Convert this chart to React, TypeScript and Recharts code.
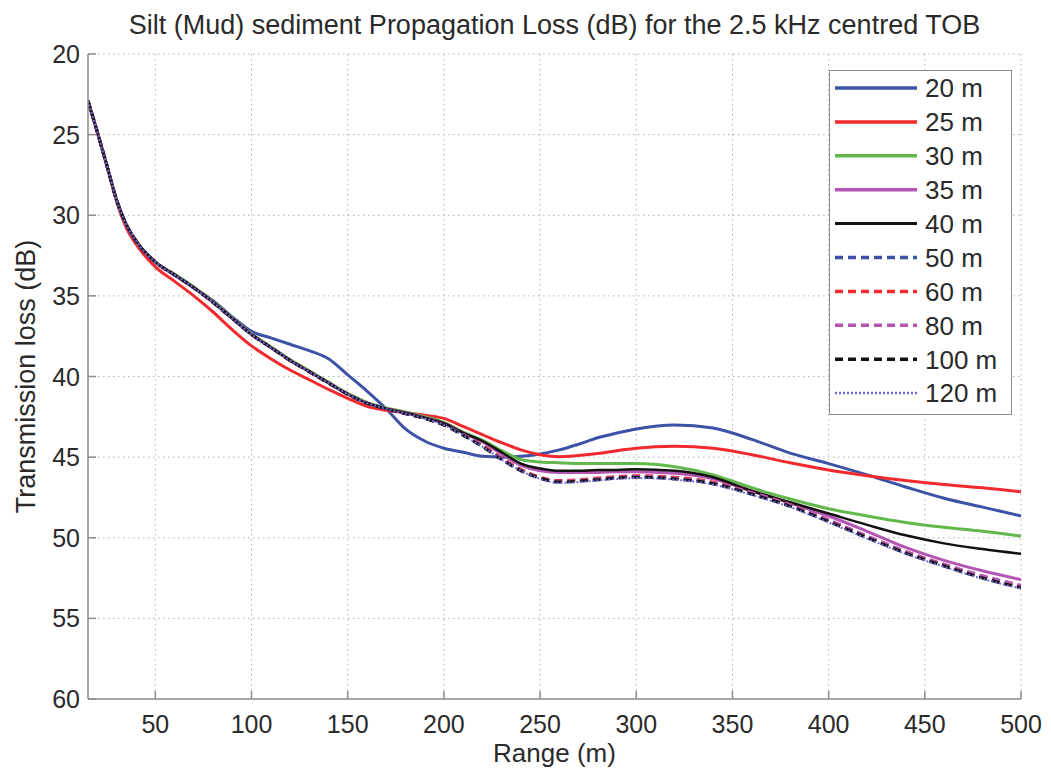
import React from 'react';
import { LineChart, Line, XAxis, YAxis, CartesianGrid, Legend, Label } from 'recharts';

const ranges = [15, 20, 25, 30, 35, 40, 50, 60, 70, 80, 90, 100, 110, 120, 130, 140, 150, 160, 170, 180, 190, 200, 210, 220, 230, 240, 250, 260, 270, 280, 290, 300, 320, 340, 360, 380, 400, 420, 440, 460, 480, 500];

const tl20 = [22.9, 24.9, 27.0, 29.1, 30.6, 31.6, 32.9, 33.7, 34.5, 35.3, 36.3, 37.2, 37.6, 38.0, 38.4, 38.9, 39.9, 40.9, 42.0, 43.25, 44.0, 44.45, 44.7, 44.95, 45.0, 44.95, 44.8, 44.55, 44.2, 43.8, 43.5, 43.25, 43.0, 43.2, 43.9, 44.75, 45.4, 46.1, 46.85, 47.55, 48.1, 48.65];
const tl25 = [22.9, 24.9, 27.0, 29.2, 30.8, 31.8, 33.2, 34.1, 35.0, 36.0, 37.1, 38.1, 38.9, 39.6, 40.2, 40.8, 41.35, 41.85, 42.1, 42.25, 42.4, 42.6, 43.1, 43.6, 44.1, 44.55, 44.85, 44.97, 44.9, 44.78, 44.6, 44.45, 44.33, 44.45, 44.85, 45.35, 45.8, 46.15, 46.45, 46.7, 46.9, 47.15];
const tl30 = [22.9, 24.9, 27.0, 29.1, 30.6, 31.6, 32.9, 33.65, 34.45, 35.35, 36.35, 37.35, 38.15, 38.95, 39.65, 40.35, 41.05, 41.6, 41.95, 42.2, 42.5, 42.85, 43.45, 43.95, 44.6, 45.15, 45.3, 45.35, 45.4, 45.4, 45.4, 45.4, 45.6, 46.1, 46.9, 47.6, 48.2, 48.65, 49.05, 49.35, 49.6, 49.9];
const tl35 = [22.9, 24.9, 27.0, 29.1, 30.6, 31.6, 32.9, 33.7, 34.5, 35.4, 36.4, 37.4, 38.2, 39.0, 39.7, 40.4, 41.1, 41.65, 42.0, 42.25, 42.55, 42.9, 43.5, 44.05, 44.8, 45.5, 45.85, 45.95, 45.95, 45.95, 45.9, 45.9, 46.0, 46.35, 47.1, 47.85, 48.65, 49.6, 50.6, 51.4, 52.05, 52.6];
const tl40 = [22.9, 24.9, 27.0, 29.1, 30.6, 31.6, 32.9, 33.7, 34.5, 35.4, 36.4, 37.4, 38.2, 39.0, 39.7, 40.4, 41.1, 41.65, 42.0, 42.25, 42.55, 42.9, 43.5, 44.0, 44.7, 45.4, 45.7, 45.85, 45.85, 45.8, 45.8, 45.75, 45.85, 46.25, 47.1, 47.8, 48.5, 49.2, 49.85, 50.35, 50.7, 51.0];
const tl50 = [22.9, 24.9, 27.0, 29.1, 30.6, 31.6, 32.9, 33.7, 34.5, 35.4, 36.4, 37.4, 38.2, 39.0, 39.7, 40.4, 41.1, 41.65, 42.0, 42.3, 42.6, 43.0, 43.6, 44.3, 45.1, 45.8, 46.3, 46.5, 46.45, 46.35, 46.25, 46.2, 46.3, 46.6, 47.25, 48.0, 48.95, 49.95, 50.9, 51.7, 52.45, 53.05];
const tl60 = [22.9, 24.9, 27.0, 29.1, 30.6, 31.6, 32.9, 33.7, 34.5, 35.4, 36.4, 37.4, 38.2, 39.0, 39.7, 40.4, 41.1, 41.65, 42.0, 42.3, 42.6, 43.0, 43.6, 44.25, 45.05, 45.75, 46.25, 46.45, 46.4, 46.3, 46.2, 46.15, 46.25, 46.55, 47.2, 47.95, 48.9, 49.9, 50.85, 51.65, 52.4, 53.0];
const tl80 = [22.9, 24.9, 27.0, 29.1, 30.6, 31.6, 32.9, 33.7, 34.5, 35.4, 36.4, 37.4, 38.2, 39.0, 39.7, 40.4, 41.1, 41.65, 42.0, 42.3, 42.6, 43.0, 43.6, 44.3, 45.1, 45.8, 46.3, 46.5, 46.45, 46.35, 46.25, 46.2, 46.3, 46.6, 47.2, 47.95, 48.9, 49.9, 50.85, 51.65, 52.35, 52.95];
const tl100 = [22.9, 24.9, 27.0, 29.1, 30.6, 31.6, 32.9, 33.7, 34.5, 35.4, 36.4, 37.4, 38.2, 39.0, 39.7, 40.4, 41.1, 41.65, 42.0, 42.3, 42.6, 43.0, 43.65, 44.35, 45.15, 45.85, 46.3, 46.55, 46.5, 46.4, 46.3, 46.25, 46.35, 46.65, 47.3, 48.05, 49.0, 50.0, 50.95, 51.75, 52.5, 53.1];
const tl120 = [22.9, 24.9, 27.0, 29.1, 30.6, 31.6, 32.9, 33.7, 34.5, 35.4, 36.4, 37.4, 38.2, 39.0, 39.7, 40.4, 41.1, 41.65, 42.0, 42.3, 42.6, 43.0, 43.65, 44.35, 45.15, 45.85, 46.35, 46.6, 46.55, 46.45, 46.35, 46.3, 46.4, 46.7, 47.35, 48.1, 49.05, 50.05, 51.0, 51.8, 52.55, 53.15];

const xTicks = [50, 100, 150, 200, 250, 300, 350, 400, 450, 500];
const yTicks = [20, 25, 30, 35, 40, 45, 50, 55, 60];

const TITLE = 'Silt (Mud) sediment Propagation Loss (dB) for the 2.5 kHz centred TOB';
const X_LABEL = 'Range (m)';
const Y_LABEL = 'Transmission loss (dB)';

const series = [
  { key: 'd20', name: '20 m', values: tl20, color: '#3c52a6', dash: undefined as string | undefined, width: 3 },
  { key: 'd25', name: '25 m', values: tl25, color: '#f02a2e', dash: undefined as string | undefined, width: 3 },
  { key: 'd30', name: '30 m', values: tl30, color: '#62b84a', dash: undefined as string | undefined, width: 3 },
  { key: 'd35', name: '35 m', values: tl35, color: '#b455b4', dash: undefined as string | undefined, width: 3 },
  { key: 'd40', name: '40 m', values: tl40, color: '#111111', dash: undefined as string | undefined, width: 2.5 },
  { key: 'd50', name: '50 m', values: tl50, color: '#3c52a6', dash: '8 5', width: 3 },
  { key: 'd60', name: '60 m', values: tl60, color: '#f02a2e', dash: '8 5', width: 3 },
  { key: 'd80', name: '80 m', values: tl80, color: '#b455b4', dash: '8 5', width: 3 },
  { key: 'd100', name: '100 m', values: tl100, color: '#111111', dash: '8 5', width: 3 },
  { key: 'd120', name: '120 m', values: tl120, color: '#6b6bdc', dash: '2 2', width: 2 },
];

const data = ranges.map((r, i) => {
  const row: Record<string, number> = { range: r };
  series.forEach((s) => {
    row[s.key] = s.values[i];
  });
  return row;
});

const FONT = '"Liberation Sans", Arial, Helvetica, sans-serif';
const TEXT = '#2a2a2a';
const FRAME = '#8c8c8c';

const XTick = (props: any) => {
  const { x, y, payload } = props;
  return (
    <text x={x} y={y} dy="0.72em" textAnchor="middle" fontFamily={FONT} fontSize={25} fill={TEXT}>
      {payload.value}
    </text>
  );
};

const YTick = (props: any) => {
  const { x, y, payload } = props;
  return (
    <text x={x} y={y} dy="0.36em" textAnchor="end" fontFamily={FONT} fontSize={25} fill={TEXT}>
      {payload.value}
    </text>
  );
};

const LegendBox = () => {
  const w = 183;
  const h = 345;
  return (
    <div style={{ width: w, height: h, border: `1.5px solid ${FRAME}`, background: '#fff', boxSizing: 'border-box' }}>
      <svg width={w - 3} height={h - 3}>
        {series.map((s, i) => {
          const cy = 17 + i * 33.9;
          return (
            <g key={s.key}>
              <line x1={5} x2={87} y1={cy} y2={cy} stroke={s.color} strokeWidth={s.width + 0.5} strokeDasharray={s.dash} />
              <text x={95} y={cy} dy="0.36em" fontFamily={FONT} fontSize={26} fill={TEXT}>
                {s.name}
              </text>
            </g>
          );
        })}
      </svg>
    </div>
  );
};

export default function App() {
  return (
    <div style={{ position: 'relative', width: 1035, height: 760, background: '#fff' }}>
      <div
        style={{
          position: 'absolute',
          left: 80,
          width: 933,
          top: 1,
          height: 32,
          lineHeight: '32px',
          textAlign: 'center',
          fontFamily: FONT,
          fontSize: 27,
          color: TEXT,
          whiteSpace: 'nowrap',
          zIndex: 2,
        }}
      >
        {TITLE}
      </div>
      <LineChart width={1035} height={760} data={data} margin={{ top: 46, right: 22, bottom: 29, left: 20 }}>
        <CartesianGrid stroke="#b0b0b0" strokeDasharray="1.5 3.5" strokeWidth={1} />
        <XAxis
          dataKey="range"
          type="number"
          domain={[15, 500]}
          ticks={xTicks}
          interval={0}
          allowDataOverflow
          height={40}
          tickSize={-8}
          tickMargin={24}
          stroke={FRAME}
          strokeWidth={1.5}
          tick={<XTick />}
        >
          <Label
            content={(p: any) => {
              const vb = p.viewBox;
              return (
                <text x={vb.x + vb.width / 2} y={vb.y + 63} textAnchor="middle" fontFamily={FONT} fontSize={26} fill={TEXT}>
                  {X_LABEL}
                </text>
              );
            }}
          />
        </XAxis>
        <XAxis
          xAxisId="top"
          orientation="top"
          dataKey="range"
          type="number"
          domain={[15, 500]}
          ticks={xTicks}
          interval={0}
          allowDataOverflow
          height={0}
          tickSize={-8}
          tick={false}
          stroke={FRAME}
          strokeWidth={1.5}
        />
        <YAxis
          type="number"
          domain={[20, 60]}
          reversed
          ticks={yTicks}
          interval={0}
          allowDataOverflow
          width={60}
          tickSize={-8}
          tickMargin={16}
          stroke={FRAME}
          strokeWidth={1.5}
          tick={<YTick />}
        >
          <Label
            content={(p: any) => {
              const vb = p.viewBox;
              const cx = vb.x - 3;
              const cy = vb.y + vb.height / 2;
              return (
                <text x={cx} y={cy} transform={`rotate(-90 ${cx} ${cy})`} textAnchor="middle" dy="0.36em" fontFamily={FONT} fontSize={27} fill={TEXT}>
                  {Y_LABEL}
                </text>
              );
            }}
          />
        </YAxis>
        <YAxis
          yAxisId="right"
          orientation="right"
          type="number"
          domain={[20, 60]}
          reversed
          ticks={yTicks}
          interval={0}
          allowDataOverflow
          width={0}
          tickSize={-8}
          tick={false}
          stroke={FRAME}
          strokeWidth={1.5}
        />
        {series.map((s) => (
          <Line
            key={s.key}
            dataKey={s.key}
            name={s.name}
            type="monotone"
            stroke={s.color}
            strokeWidth={s.width}
            strokeDasharray={s.dash}
            dot={false}
            activeDot={false}
            isAnimationActive={false}
          />
        ))}
        <Legend
          layout="vertical"
          align="center"
          verticalAlign="middle"
          content={() => <LegendBox />}
          wrapperStyle={{ left: 821, top: 62, width: 183, height: 345 }}
        />
      </LineChart>
    </div>
  );
}
